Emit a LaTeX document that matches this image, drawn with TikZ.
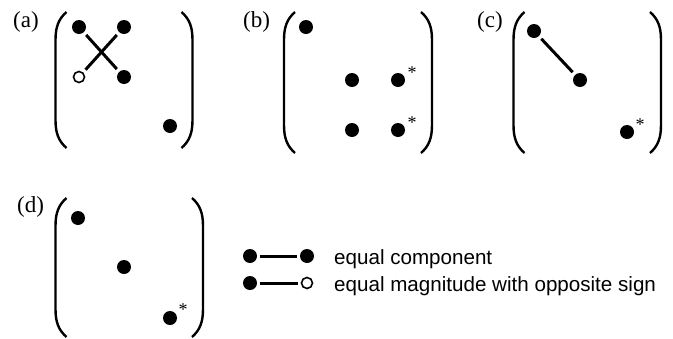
\documentclass[tikz,border=0pt]{standalone}
\usepackage{fontspec}
\setmainfont{Liberation Serif}
\newfontfamily\legendfont{Liberation Sans}
\tikzset{
  dot/.style={circle,fill=black,minimum size=14pt,inner sep=0pt},
  odot/.style={circle,draw=black,fill=white,line width=1.6pt,minimum size=11pt,inner sep=0pt},
  conn/.style={line width=3pt,shorten >=3.5pt,shorten <=3.5pt},
  lbl/.style={anchor=base west,font=\fontsize{23}{23}\selectfont,inner sep=0pt},
  star/.style={font=\fontsize{18}{18}\selectfont,inner sep=0pt},
  leg/.style={anchor=base west,font=\legendfont\fontsize{20.6}{20.6}\selectfont,inner sep=0pt},
  paren/.style={line width=2.4pt}
}
\newcommand\myLP[3]{\draw[paren] ({#1+11},#2) .. controls ({#1+3},{#2+7}) and (#1,{#2+15}) .. (#1,{#2+28}) -- (#1,{#3-28}) .. controls (#1,{#3-15}) and ({#1+3},{#3-7}) .. ({#1+11},#3);}
\newcommand\myRP[3]{\draw[paren] ({#1-11},#2) .. controls ({#1-3},{#2+7}) and (#1,{#2+15}) .. (#1,{#2+28}) -- (#1,{#3-28}) .. controls (#1,{#3-15}) and ({#1-3},{#3-7}) .. ({#1-11},#3);}
\begin{document}
\begin{tikzpicture}[x=1pt,y=-1pt]
\useasboundingbox (0,0) rectangle (673,338);
% (a)
\node[lbl] (la) at (13,27) {(a)};
\myLP{55.5}{12}{148}
\myRP{192.5}{12}{148}
\node[dot] (a11) at (79,27) {};
\node[dot] (a12) at (124,27) {};
\node[odot] (a21) at (79,77) {};
\node[dot] (a22) at (124,77) {};
\node[dot] (a33) at (170,126) {};
\draw[conn] (a11) -- (a22);
\draw[conn] (a12) -- (a21);
% (b)
\node[lbl] (lb) at (243,27) {(b)};
\myLP{284}{12}{153}
\myRP{432}{12}{153}
\node[dot] (b11) at (306,27) {};
\node[dot] (b22) at (352,80) {};
\node[dot] (b23) at (398,80) {};
\node[dot] (b32) at (352,130) {};
\node[dot] (b33) at (398,130) {};
\node[star] (bs1) at (412,73) {*};
\node[star] (bs2) at (412,123) {*};
% (c)
\node[lbl] (lc) at (477,27) {(c)};
\myLP{513.5}{12}{153}
\myRP{661}{12}{153}
\node[dot] (c11) at (534,31) {};
\node[dot] (c22) at (580,80) {};
\node[dot] (c33) at (627,132) {};
\node[star] (cs) at (640,125) {*};
\draw[conn] (c11) -- (c22);
% (d)
\node[lbl] (ld) at (17,212) {(d)};
\myLP{55.5}{198}{337}
\myRP{203}{198}{337}
\node[dot] (d11) at (78,218) {};
\node[dot] (d22) at (124,267) {};
\node[dot] (d33) at (170,318) {};
\node[star] (ds) at (183,310) {*};
% legend
\node[dot] (e1) at (250,256) {};
\node[dot] (e2) at (307,256) {};
\draw[conn,shorten >=2.5pt,shorten <=2.5pt] (e1) -- (e2);
\node[leg] (t1) at (334,264) {equal component};
\node[dot] (f1) at (250,283) {};
\node[odot] (f2) at (307,283) {};
\draw[conn,shorten >=2.5pt,shorten <=2.5pt] (f1) -- (f2);
\node[leg] (t2) at (334,291) {equal magnitude with opposite sign};
\end{tikzpicture}
\end{document}
